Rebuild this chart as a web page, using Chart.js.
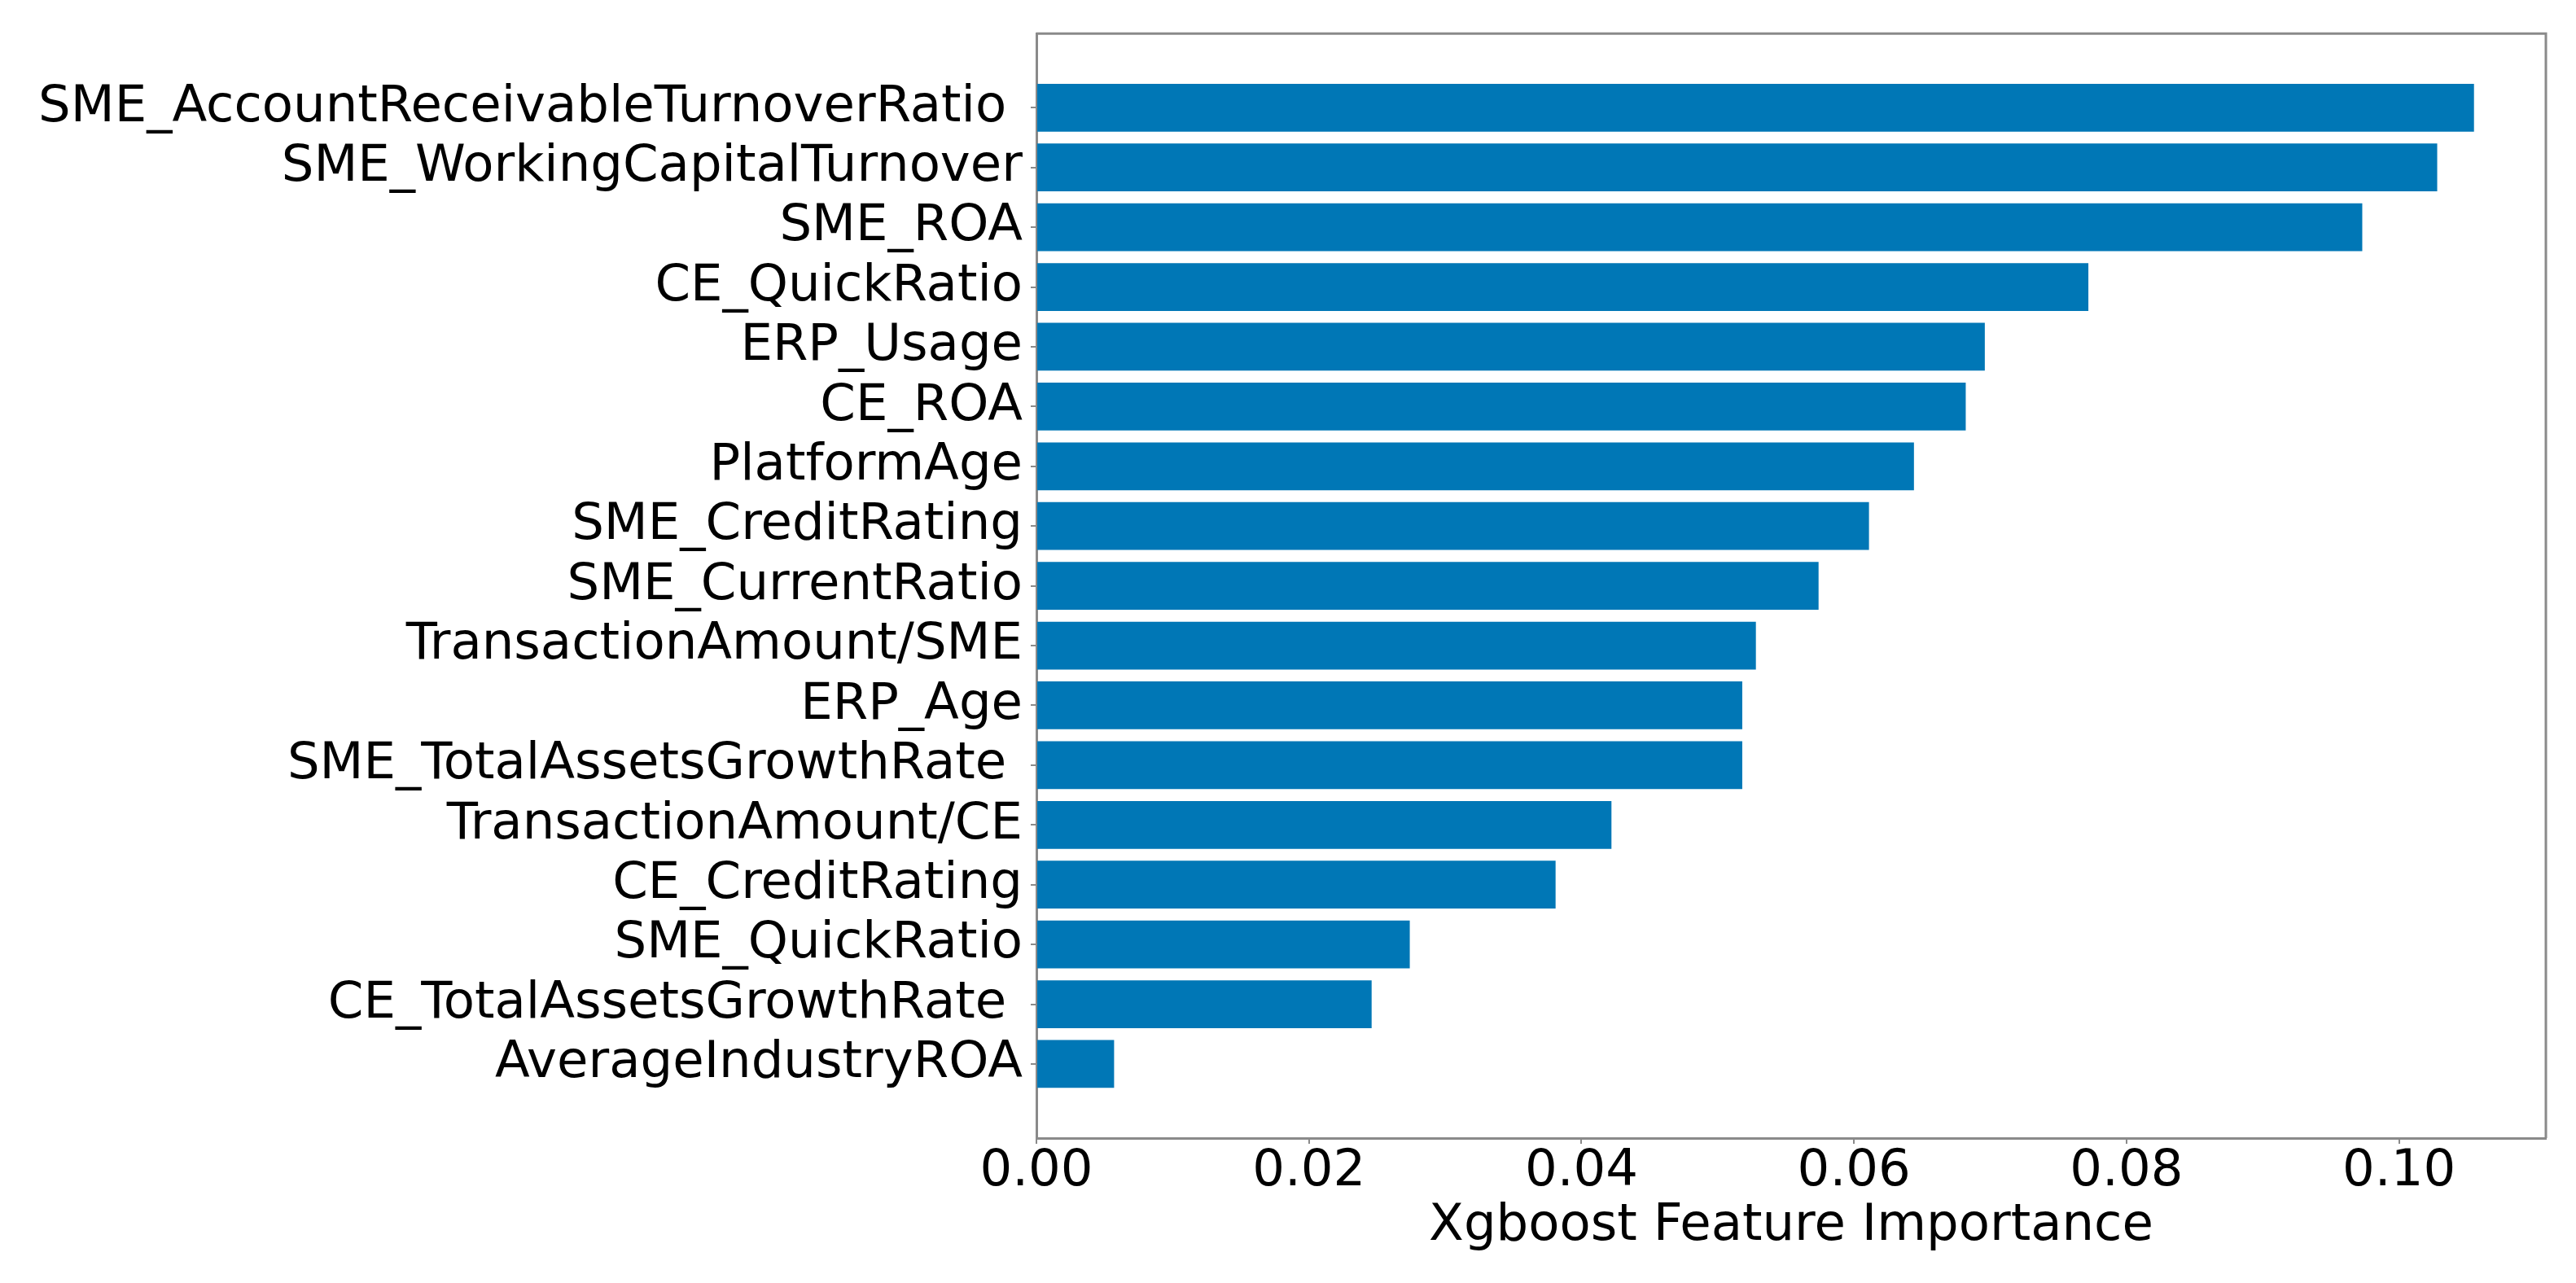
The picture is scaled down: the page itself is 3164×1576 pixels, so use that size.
<!DOCTYPE html>
<html>
<head>
<meta charset="utf-8">
<script src="https://cdn.jsdelivr.net/npm/chart.js@4/dist/chart.umd.min.js"></script>
<style>
  html, body { margin: 0; padding: 0; background: #ffffff; }
  #wrap { width: 3164px; height: 1576px; }
</style>
</head>
<body>
<div id="wrap"><canvas id="c" width="3164" height="1576"></canvas></div>
<script>
// ---- data (top-level) ----
const categories = [
  "SME_AccountReceivableTurnoverRatio ",
  "SME_WorkingCapitalTurnover",
  "SME_ROA",
  "CE_QuickRatio",
  "ERP_Usage",
  "CE_ROA",
  "PlatformAge",
  "SME_CreditRating",
  "SME_CurrentRatio",
  "TransactionAmount/SME",
  "ERP_Age",
  "SME_TotalAssetsGrowthRate ",
  "TransactionAmount/CE",
  "CE_CreditRating",
  "SME_QuickRatio",
  "CE_TotalAssetsGrowthRate ",
  "AverageIndustryROA"
];
const importance = [
  0.1055, 0.1028, 0.0973, 0.0772, 0.0696, 0.0682, 0.0644, 0.0611, 0.0574,
  0.0528, 0.0518, 0.0518, 0.0422, 0.0381, 0.0274, 0.0246, 0.0057
];
const xTickValues = [0.00, 0.02, 0.04, 0.06, 0.08, 0.10];
const xTitle = "Xgboost Feature Importance";

// ---- chart ----
Chart.defaults.font.family = "'DejaVu Sans', sans-serif";
Chart.defaults.color = "#000000";

const axisColor = "#8a8a8a";
const barColor = "#0077b6";
const xMax = Math.max(...importance) * 1.05;
const yMargin = 0.05 * ((categories.length - 1) + 0.8);

const bg = {
  id: "bg",
  beforeDraw(chart) {
    const ctx = chart.ctx;
    ctx.save();
    ctx.fillStyle = "#ffffff";
    ctx.fillRect(0, 0, chart.width, chart.height);
    ctx.restore();
  }
};
const frame = {
  id: "frame",
  afterDraw(chart) {
    const {ctx, chartArea: a} = chart;
    ctx.save();
    ctx.strokeStyle = axisColor;
    ctx.lineWidth = 3;
    ctx.beginPath();
    ctx.moveTo(a.left, a.top);
    ctx.lineTo(a.right, a.top);
    ctx.lineTo(a.right, a.bottom);
    ctx.stroke();
    ctx.restore();
  }
};

new Chart(document.getElementById("c"), {
  type: "bar",
  data: {
    datasets: [{
      data: categories.map((c, i) => ({ x: importance[i], y: i })),
      backgroundColor: barColor,
      borderWidth: 0,
      barPercentage: 0.8,
      categoryPercentage: 1.0
    }]
  },
  options: {
    indexAxis: "y",
    responsive: false,
    animation: false,
    devicePixelRatio: 1,
    layout: { padding: { top: 40, right: 37, left: 0, bottom: 0 } },
    plugins: { legend: { display: false }, tooltip: { enabled: false } },
    scales: {
      x: {
        type: "linear",
        position: "bottom",
        min: 0,
        max: xMax,
        bounds: "data",
        afterBuildTicks: (s) => { s.ticks = xTickValues.map(v => ({ value: v })); },
        afterFit: (s) => { s.height = 178; },
        ticks: {
          autoSkip: false,
          maxRotation: 0,
          padding: 4,
          font: { size: 62.5, lineHeight: 1.0 },
          color: "#000000",
          callback: (v) => Number(v).toFixed(2)
        },
        grid: { drawOnChartArea: false, drawTicks: true, tickLength: 7, color: axisColor, lineWidth: 2 },
        border: { display: true, color: axisColor, width: 3 },
        title: {
          display: true,
          text: xTitle,
          color: "#000000",
          font: { size: 62.5, lineHeight: 1.0 },
          padding: { top: 0, bottom: 38 }
        }
      },
      y: {
        type: "linear",
        position: "left",
        reverse: true,
        offset: false,
        bounds: "data",
        min: -0.4 - yMargin,
        max: (categories.length - 1) + 0.4 + yMargin,
        afterBuildTicks: (s) => { s.ticks = categories.map((c, i) => ({ value: i })); },
        afterFit: (s) => { s.width = 1273; },
        ticks: {
          autoSkip: false,
          padding: 10,
          font: { size: 62.5, lineHeight: 1.0 },
          color: "#000000",
          callback: (v) => categories[v]
        },
        grid: { offset: false, drawOnChartArea: false, drawTicks: true, tickLength: 7, color: axisColor, lineWidth: 2 },
        border: { display: true, color: axisColor, width: 3 }
      }
    }
  },
  plugins: [bg, frame]
});
</script>
</body>
</html>
